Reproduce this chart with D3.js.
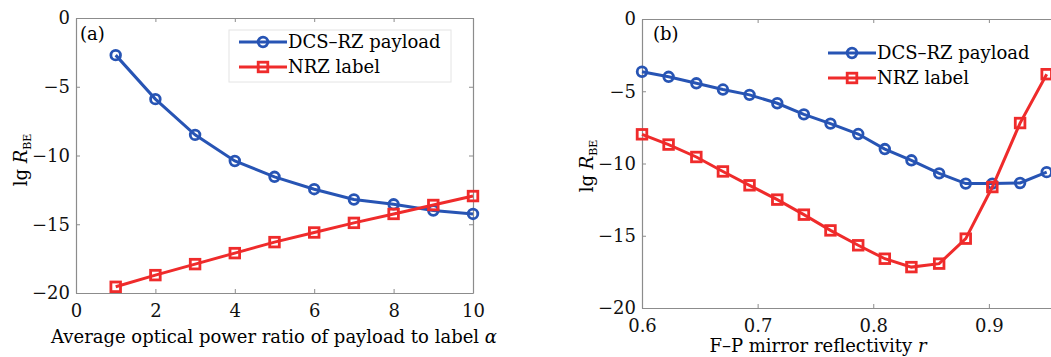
<!DOCTYPE html>
<html>
<head>
<meta charset="utf-8">
<script src="https://cdn.jsdelivr.net/npm/d3@7"></script>
<style>
  body { margin: 0; background: #fff; }
  svg { display: block; font-family: "DejaVu Serif", serif; }
</style>
</head>
<body>
<div id="chart"></div>
<script>
// data
const alphaValues = [1, 2, 3, 4, 5, 6, 7, 8, 9, 10];
const dcsVsAlpha = [-2.7, -5.9, -8.5, -10.4, -11.55, -12.45, -13.2, -13.55, -14.0, -14.25];
const nrzVsAlpha = [-19.55, -18.7, -17.9, -17.1, -16.3, -15.6, -14.9, -14.25, -13.6, -12.95];

const reflectivity = [0.600, 0.623, 0.647, 0.670, 0.693, 0.717, 0.740, 0.763,
                      0.787, 0.810, 0.833, 0.857, 0.880, 0.903, 0.927, 0.950];
const dcsVsR = [-3.65, -4.0, -4.45, -4.88, -5.25, -5.83, -6.6, -7.24,
                -7.96, -9.0, -9.78, -10.68, -11.39, -11.39, -11.35, -10.6];
const nrzVsR = [-7.98, -8.69, -9.55, -10.55, -11.51, -12.5, -13.54, -14.63,
                -15.66, -16.59, -17.17, -16.93, -15.2, -11.63, -7.2, -3.82];

const alphaTicks = [0, 2, 4, 6, 8, 10];
const rTicks = [0.6, 0.7, 0.8, 0.9];   // 1.0 falls outside the cropped figure
const berTicks = [0, -5, -10, -15, -20];
const seriesNames = ["DCS\u2013RZ payload", "NRZ label"];

const W = 1051, H = 357;
const blue = "#2754b4", red = "#ef2b2b", axisGrey = "#8c8c8c";

const svg = d3.select("#chart").append("svg")
    .attr("width", W)
    .attr("height", H)
    .attr("viewBox", [0, 0, W, H]);

const panels = [
    {
        tag: "(a)", xs: alphaValues, blueVals: dcsVsAlpha, redVals: nrzVsAlpha,
        xDomain: [0, 10], xTicks: alphaTicks, xFmt: d3.format("d"),
        left: 76, right: 473, top: 18, bottom: 293,
        xLabel: "Average optical power ratio of payload to label ", xVar: "\u03b1",
        xLabelX: 274, xLabelY: 343, yLabelX: 27, yLabelY: 160,
        tagX: 80, tagY: 40, legendBox: true, legX: 239, legY: 42
    },
    {
        tag: "(b)", xs: reflectivity, blueVals: dcsVsR, redVals: nrzVsR,
        xDomain: [0.6, 1.0], xTicks: rTicks, xFmt: d3.format(".1f"),
        left: 642, right: 1104.5, top: 19, bottom: 308,
        xLabel: "F\u2013P mirror reflectivity ", xVar: "r",
        xLabelX: 818, xLabelY: 352, yLabelX: 593, yLabelY: 166,
        tagX: 653, tagY: 40, legendBox: false, legX: 828, legY: 53
    }
];

panels.forEach(p => drawPanel(p));

function drawPanel(p) {
    const x = d3.scaleLinear().domain(p.xDomain).range([p.left, p.right]);
    const y = d3.scaleLinear().domain([-20, 0]).range([p.bottom, p.top]);

    const g = svg.append("g");

    // box axes with inward ticks (matlab style)
    const styleAxis = sel => {
        sel.select(".domain").attr("stroke", axisGrey).attr("stroke-width", 1.2);
        sel.selectAll(".tick line").attr("stroke", axisGrey).attr("stroke-width", 1);
        sel.selectAll("text").attr("fill", "#111").style("font-size", "18px")
            .style("font-family", "DejaVu Serif, serif");
    };

    g.append("g")
        .attr("transform", `translate(0,${p.bottom})`)
        .call(d3.axisBottom(x).tickValues(p.xTicks).tickFormat(p.xFmt)
            .tickSizeInner(-4).tickSizeOuter(0).tickPadding(11))
        .call(styleAxis);

    g.append("g")
        .attr("transform", `translate(0,${p.top})`)
        .call(d3.axisTop(x).tickValues(p.xTicks).tickFormat("")
            .tickSizeInner(-4).tickSizeOuter(0))
        .call(styleAxis);

    g.append("g")
        .attr("transform", `translate(${p.left},0)`)
        .call(d3.axisLeft(y).tickValues(berTicks).tickFormat(d3.format("d"))
            .tickSizeInner(-4).tickSizeOuter(0).tickPadding(6))
        .call(styleAxis);

    g.append("g")
        .attr("transform", `translate(${p.right},0)`)
        .call(d3.axisRight(y).tickValues(berTicks).tickFormat("")
            .tickSizeInner(-4).tickSizeOuter(0))
        .call(styleAxis);

    // panel tag
    g.append("text")
        .attr("x", p.tagX).attr("y", p.tagY)
        .style("font-size", "18px")
        .text(p.tag);

    // axis titles
    const xt = g.append("text")
        .attr("x", p.xLabelX).attr("y", p.xLabelY)
        .attr("text-anchor", "middle")
        .style("font-size", "18px");
    xt.append("tspan").text(p.xLabel);
    xt.append("tspan").style("font-style", "italic").text(p.xVar);

    const yt = g.append("text")
        .attr("transform", `translate(${p.yLabelX},${p.yLabelY}) rotate(-90)`)
        .attr("text-anchor", "middle")
        .style("font-size", "18px");
    yt.append("tspan").text("lg ");
    yt.append("tspan").style("font-style", "italic").text("R");
    yt.append("tspan").attr("dy", 4).style("font-size", "11px").text("BE");

    // series
    const line = d3.line().x(d => x(d[0])).y(d => y(d[1]));
    const blueData = p.xs.map((v, i) => [v, p.blueVals[i]]);
    const redData = p.xs.map((v, i) => [v, p.redVals[i]]);

    const drawSeries = (data, color, shape) => {
        g.append("path")
            .datum(data)
            .attr("fill", "none")
            .attr("stroke", color)
            .attr("stroke-width", 3)
            .attr("d", line);
        if (shape === "circle") {
            g.append("g").selectAll("circle")
                .data(data)
                .join("circle")
                .attr("cx", d => x(d[0]))
                .attr("cy", d => y(d[1]))
                .attr("r", 4.8)
                .attr("fill", "none")
                .attr("stroke", color)
                .attr("stroke-width", 2.8);
        } else {
            g.append("g").selectAll("rect")
                .data(data)
                .join("rect")
                .attr("x", d => x(d[0]) - 4.8)
                .attr("y", d => y(d[1]) - 4.8)
                .attr("width", 9.6)
                .attr("height", 9.6)
                .attr("fill", "none")
                .attr("stroke", color)
                .attr("stroke-width", 2.8);
        }
    };

    // legend background (white, light frame in panel a)
    const leg = g.append("g").attr("transform", `translate(${p.legX},${p.legY})`);
    if (p.legendBox) {
        leg.append("rect")
            .attr("x", -10).attr("y", -12)
            .attr("width", 222).attr("height", 52)
            .attr("fill", "#fff")
            .attr("stroke", "#e4e4e4");
    }

    drawSeries(blueData, blue, "circle");
    drawSeries(redData, red, "square");

    // legend entries on top
    const entries = [
        { name: seriesNames[0], color: blue, shape: "circle" },
        { name: seriesNames[1], color: red, shape: "square" }
    ];
    const lg = g.append("g").attr("transform", `translate(${p.legX},${p.legY})`);
    entries.forEach((e, i) => {
        const row = lg.append("g").attr("transform", `translate(0,${i * 25})`);
        row.append("line")
            .attr("x1", 0).attr("x2", 48)
            .attr("stroke", e.color).attr("stroke-width", 3);
        if (e.shape === "circle") {
            row.append("circle").attr("cx", 24).attr("r", 4.8)
                .attr("fill", "none").attr("stroke", e.color).attr("stroke-width", 2.8);
        } else {
            row.append("rect").attr("x", 19.2).attr("y", -4.8)
                .attr("width", 9.6).attr("height", 9.6)
                .attr("fill", "none").attr("stroke", e.color).attr("stroke-width", 2.8);
        }
        row.append("text")
            .attr("x", 49).attr("dy", "0.35em")
            .style("font-size", "18px")
            .text(e.name);
    });
}
</script>
</body>
</html>
